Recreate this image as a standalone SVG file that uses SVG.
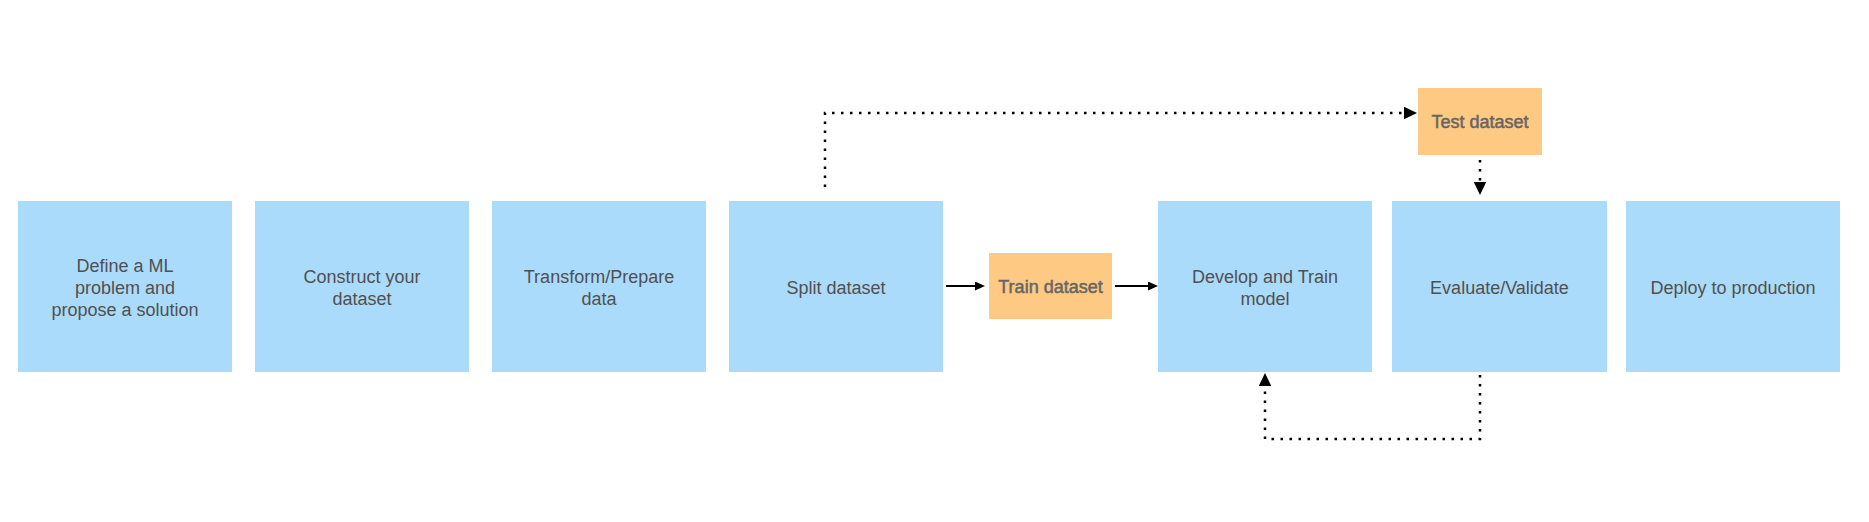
<svg xmlns="http://www.w3.org/2000/svg" width="1869" height="522" viewBox="0 0 1869 522">
<style>
.step{fill:#abdbfb}
.data{fill:#fec982}
.t{font-family:"Liberation Sans",Arial,sans-serif;font-size:18px;fill:#505050;text-anchor:middle}
.td{font-family:"Liberation Sans",Arial,sans-serif;font-size:18px;fill:#666666;stroke:#666666;stroke-width:0.5;text-anchor:middle}
.solid{fill:none;stroke:#000;stroke-width:2}
.dot{fill:none;stroke:#000;stroke-width:2.5;stroke-dasharray:2.5 6.5}
</style>
<defs>
<marker id="ah" markerUnits="userSpaceOnUse" markerWidth="10" markerHeight="10" refX="0" refY="4.5" orient="auto"><path d="M0,0 L10,4.5 L0,9 z" fill="#000"/></marker>
<marker id="ahd" markerUnits="userSpaceOnUse" markerWidth="13" markerHeight="13" refX="0" refY="6.25" orient="auto"><path d="M0,0 L13,6.25 L0,12.5 z" fill="#000"/></marker>
</defs>
<rect width="1869" height="522" fill="#fff"/>
<g id="n1"><rect class="step" x="18" y="201" width="214" height="171"/><text class="t" x="125" y="271.5">Define a ML</text><text class="t" x="125" y="293.5">problem and</text><text class="t" x="125" y="315.5">propose a solution</text></g>
<g id="n2"><rect class="step" x="255" y="201" width="214" height="171"/><text class="t" x="362" y="283">Construct your</text><text class="t" x="362" y="305">dataset</text></g>
<g id="n3"><rect class="step" x="492" y="201" width="214" height="171"/><text class="t" x="599" y="283">Transform/Prepare</text><text class="t" x="599" y="305">data</text></g>
<g id="n4"><rect class="step" x="729" y="201" width="214" height="171"/><text class="t" x="836" y="293.5">Split dataset</text></g>
<g id="n5"><rect class="data" x="989" y="253" width="123" height="66"/><text class="td" x="1050.5" y="292.5">Train dataset</text></g>
<g id="n6"><rect class="data" x="1418" y="88" width="124" height="67"/><text class="td" x="1480" y="128">Test dataset</text></g>
<g id="n7"><rect class="step" x="1158" y="201" width="214" height="171"/><text class="t" x="1265" y="283">Develop and Train</text><text class="t" x="1265" y="305">model</text></g>
<g id="n8"><rect class="step" x="1392" y="201" width="215" height="171"/><text class="t" x="1499.5" y="293.5">Evaluate/Validate</text></g>
<g id="n9"><rect class="step" x="1626" y="201" width="214" height="171"/><text class="t" x="1733" y="293.5">Deploy to production</text></g>
<g id="connectors">
<path class="solid" d="M946,286 H975" marker-end="url(#ah)"/>
<path class="solid" d="M1115,286 H1148" marker-end="url(#ah)"/>
<path class="dot" d="M825,187 V113 H1404" marker-end="url(#ahd)"/>
<path class="dot" d="M1480,160 V182" marker-end="url(#ahd)"/>
<path class="dot" d="M1480,375 V439 H1265 V386" marker-end="url(#ahd)"/>
</g>
</svg>
